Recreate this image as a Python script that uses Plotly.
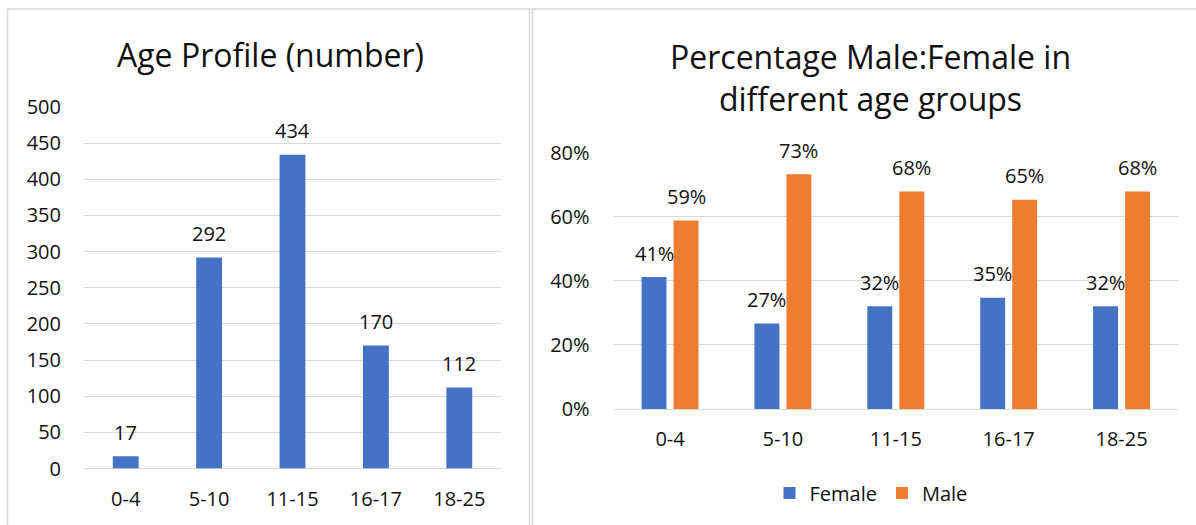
import plotly.graph_objects as go

# ---- data ----
age_groups = ["0-4", "5-10", "11-15", "16-17", "18-25"]
age_counts = [17, 292, 434, 170, 112]
female_pct = [0.412, 0.267, 0.321, 0.347, 0.321]
male_pct = [0.588, 0.733, 0.679, 0.653, 0.679]
left_title = "Age Profile (number)"
right_title = "Percentage Male:Female in<br>different age groups"

W, H = 1196, 525
FONT = "Open Sans"
TXT = "#111111"
GRID = "#D9D9D9"
BLUE = "#4472C4"
ORANGE = "#ED7D31"


def px(x):
    return x / W


def py(y):
    return 1 - y / H


fig = go.Figure()

fig.add_trace(go.Bar(x=age_groups, y=age_counts, marker=dict(color=BLUE, line=dict(width=0)),
                     xaxis="x", yaxis="y", showlegend=False, width=0.31))
fig.add_trace(go.Bar(x=age_groups, y=female_pct, name="Female",
                     marker=dict(color=BLUE, line=dict(width=0)), xaxis="x2", yaxis="y2"))
fig.add_trace(go.Bar(x=age_groups, y=male_pct, name="Male",
                     marker=dict(color=ORANGE, line=dict(width=0)), xaxis="x2", yaxis="y2"))

lab_font = dict(size=20, color=TXT, family=FONT)
annotations = []
for g, v in zip(age_groups, age_counts):
    annotations.append(dict(x=g, y=v, xref="x", yref="y", text=str(v), showarrow=False,
                            yanchor="middle", yshift=24, font=lab_font))
for g, v in zip(age_groups, female_pct):
    annotations.append(dict(x=g, y=v, xref="x2", yref="y2", text=f"{round(v*100)}%", showarrow=False,
                            yanchor="middle", yshift=24, xshift=-16, font=lab_font))
for g, v in zip(age_groups, male_pct):
    annotations.append(dict(x=g, y=v, xref="x2", yref="y2", text=f"{round(v*100)}%", showarrow=False,
                            yanchor="middle", yshift=24, xshift=16, font=lab_font))

annotations.append(dict(x=px(270), y=py(55), xref="paper", yref="paper", text=left_title,
                        showarrow=False, xanchor="center", yanchor="middle",
                        font=dict(size=32, color=TXT, family=FONT)))
annotations.append(dict(x=px(870), y=py(77.5), xref="paper", yref="paper", text=right_title,
                        showarrow=False, xanchor="center", yanchor="middle",
                        font=dict(size=32, color=TXT, family=FONT)))

line = dict(color=GRID, width=1.5)
shapes = [
    dict(type="line", xref="paper", yref="paper", x0=px(7), x1=1, y0=py(9), y1=py(9), line=line),
    dict(type="line", xref="paper", yref="paper", x0=px(7.5), x1=px(7.5), y0=py(9), y1=0, line=line),
    dict(type="line", xref="paper", yref="paper", x0=px(529.5), x1=px(529.5), y0=py(9), y1=0, line=line),
    dict(type="line", xref="paper", yref="paper", x0=px(532.5), x1=px(532.5), y0=py(9), y1=0, line=line),
]

axis_font = dict(size=20, color=TXT, family=FONT)

fig.update_layout(
    width=W, height=H, autosize=False,
    margin=dict(l=0, r=0, t=0, b=0, pad=0, autoexpand=False),
    paper_bgcolor="white", plot_bgcolor="white",
    font=dict(family=FONT, color=TXT),
    barmode="group",
    bargap=0.433, bargroupgap=0.22,
    annotations=annotations,
    shapes=shapes,
    legend=dict(orientation="h", x=px(871), y=py(493), xanchor="center", yanchor="middle",
                font=axis_font, itemwidth=30, bgcolor="rgba(0,0,0,0)"),
    xaxis=dict(domain=[px(84), px(501)], anchor="y", type="category", showgrid=False, automargin=False,
               showline=False, ticks="", tickfont=axis_font, ticklabelstandoff=16),
    yaxis=dict(domain=[py(468.5), py(107)], anchor="x", range=[0, 500], dtick=50, automargin=False,
               showgrid=True, gridcolor=GRID, gridwidth=1, zeroline=True, zerolinecolor=GRID,
               zerolinewidth=1, showline=False, ticks="", tickfont=axis_font, ticklabelstandoff=22),
    xaxis2=dict(domain=[px(613.6), px(1178)], anchor="y2", type="category", showgrid=False, automargin=False,
                showline=False, ticks="", tickfont=axis_font, ticklabelstandoff=16),
    yaxis2=dict(domain=[py(409), py(152.7)], anchor="x2", range=[0, 0.8], dtick=0.2, automargin=False,
                tickformat=".0%", showgrid=True, gridcolor=GRID, gridwidth=1, zeroline=True,
                zerolinecolor=GRID, zerolinewidth=1, showline=False, ticks="", tickfont=axis_font,
                ticklabelstandoff=23),
)

fig.write_html("out.html", config={"displayModeBar": False},
               post_script="document.body.style.margin='0px';document.body.style.overflow='hidden';")
